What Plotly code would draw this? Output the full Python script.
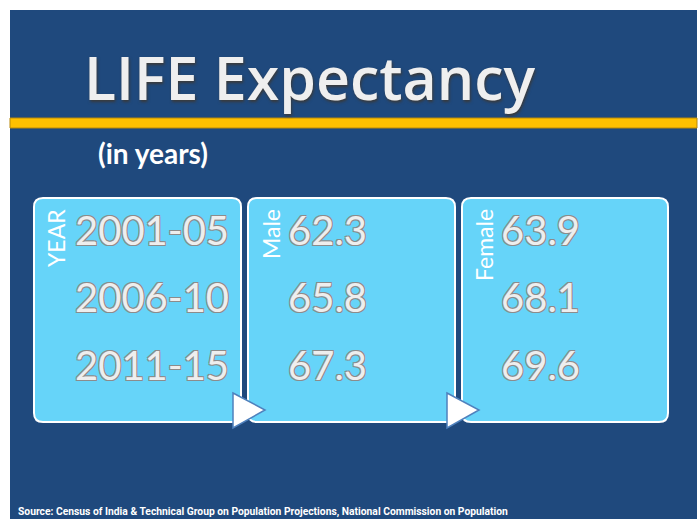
import plotly.graph_objects as go

# slide content
title = 'LIFE Expectancy'
subtitle = '(in years)'
headers = ['YEAR', 'Male', 'Female']
periods = ['2001-05', '2006-10', '2011-15']
male = [62.3, 65.8, 67.3]
female = [63.9, 68.1, 69.6]
source = 'Source: Census of India & Technical Group on Population Projections, National Commission on Population'

# canvas in pixel units, y reversed so it reads like the slide
W, H = 700, 519
BLUE = '#1F497D'
CYAN = '#66D4F9'
YELLOW = '#FFC000'

box_x = [(34, 241), (248, 455), (462, 668)]
box_top, box_bottom = 198, 422
text_x = [75, 288, 501]
row_y = [235, 302, 370]
header_x = [56, 271, 484]
arrow_x = [233, 447]

outline = '-1px -1px 0 #8c8c8c, 1px -1px 0 #8c8c8c, -1px 1px 0 #8c8c8c, 1px 1px 0 #8c8c8c'


def rounded(x0, y0, x1, y1, r):
    return (f'M{x0 + r},{y0} L{x1 - r},{y0} Q{x1},{y0} {x1},{y0 + r} '
            f'L{x1},{y1 - r} Q{x1},{y1} {x1 - r},{y1} L{x0 + r},{y1} '
            f'Q{x0},{y1} {x0},{y1 - r} L{x0},{y0 + r} Q{x0},{y0} {x0 + r},{y0} Z')


fig = go.Figure()

columns = [periods, [f'{v:.1f}' for v in male], [f'{v:.1f}' for v in female]]
for i, col in enumerate(columns):
    fig.add_trace(go.Scatter(
        x=[text_x[i]] * len(col), y=row_y, mode='text', text=col,
        textposition='middle right', hoverinfo='skip', showlegend=False,
        textfont=dict(family='Lato', size=40, color='#EEEEEE', shadow=outline)))

shapes = [
    dict(type='rect', x0=10, y0=10, x1=697, y1=H, fillcolor=BLUE, line_width=0, layer='below'),
    dict(type='rect', x0=10, y0=118, x1=697, y1=128, fillcolor=YELLOW,
         line=dict(color='#B8890A', width=1), layer='below'),
]
for x0, x1 in box_x:
    shapes.append(dict(type='path', path=rounded(x0, box_top, x1, box_bottom, 9),
                       fillcolor=CYAN, line=dict(color='white', width=2), layer='below'))
for ax in arrow_x:
    shapes.append(dict(type='path', path=f'M{ax},393 L{ax + 32},410 L{ax},428 Z',
                       fillcolor='white', line=dict(color='#4F81BD', width=1.5), layer='below'))

annotations = [
    dict(x=82, y=77, text=title, showarrow=False, xanchor='left', yanchor='middle',
         font=dict(family='Open Sans', size=59, color='#EFEFEF', weight=600,
                   shadow='1px 2px 3px #3a3a3a')),
    dict(x=96, y=153, text=subtitle, showarrow=False, xanchor='left', yanchor='middle',
         font=dict(family='Lato', size=28, color='white', weight='bold')),
    dict(x=16, y=511, text=source, showarrow=False, xanchor='left', yanchor='middle',
         font=dict(family='Liberation Sans Narrow, Roboto', size=10.3, color='white', weight='bold')),
]
for hx, h in zip(header_x, headers):
    annotations.append(dict(x=hx, y=207, text=h, showarrow=False, textangle=-90,
                            xanchor='center', yanchor='top',
                            font=dict(family='Lato', size=23, color='white')))

fig.update_layout(
    width=W, height=H, margin=dict(l=0, r=0, t=0, b=0),
    paper_bgcolor='white', plot_bgcolor='white',
    xaxis=dict(range=[0, W], visible=False, fixedrange=True),
    yaxis=dict(range=[H, 0], visible=False, fixedrange=True),
    shapes=shapes, annotations=annotations,
)

# drop the page's default body margin so the slide sits at the window's corner
fig.write_html('out.html', config={'displayModeBar': False},
               post_script="document.body.style.margin='0';")
